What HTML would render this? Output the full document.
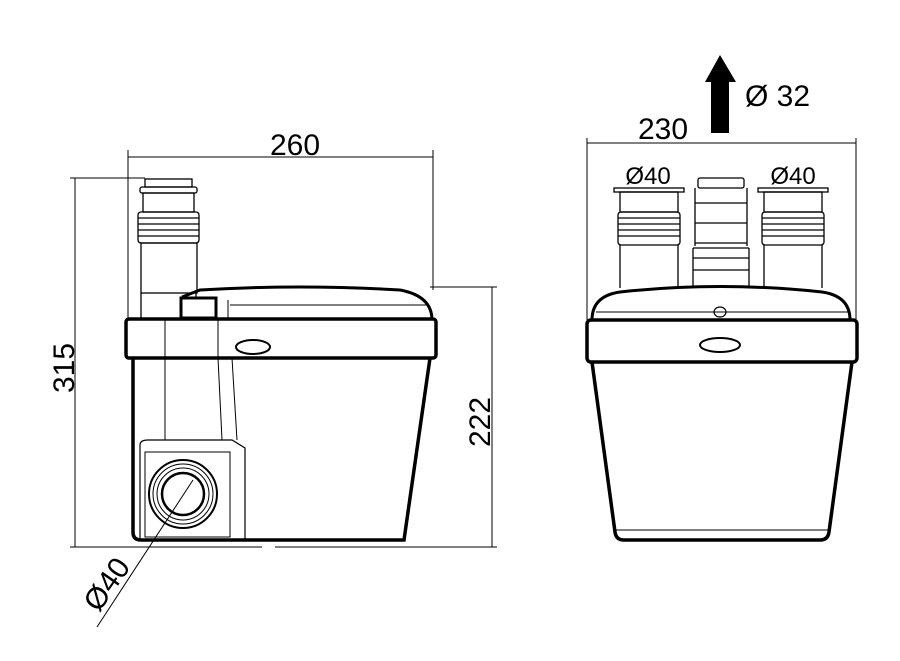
<!DOCTYPE html>
<html><head><meta charset="utf-8"><style>html,body{margin:0;padding:0;background:#fff}svg{display:block}</style></head><body>
<svg width="900" height="661" viewBox="0 0 900 661" xmlns="http://www.w3.org/2000/svg" font-family="Liberation Sans, sans-serif">
<g fill="none" stroke="#000">
<g stroke-width="1">
<line x1="128" y1="157" x2="433" y2="157"/>
<line x1="128" y1="150" x2="128" y2="318"/>
<line x1="433" y1="150" x2="433" y2="290"/>
<line x1="75" y1="178" x2="75" y2="547"/>
<line x1="70" y1="178" x2="145" y2="178"/>
<line x1="70" y1="547" x2="262" y2="547"/>
<line x1="275" y1="547" x2="497" y2="547"/>
<line x1="492" y1="287" x2="492" y2="547"/>
<line x1="430" y1="287" x2="497" y2="287"/>
<line x1="193" y1="480" x2="97" y2="627"/>
</g>
<g stroke-width="1.3">
<rect x="145" y="179" width="47" height="8"/>
<rect x="140" y="187" width="57" height="6" rx="2"/>
<rect x="143" y="193" width="51" height="19"/>
<rect x="138" y="212" width="61" height="31" rx="3"/>
<path d="M138 218H199M138 224H199M138 230H199M138 236H199"/>
<rect x="141" y="243" width="56" height="50"/>
<line x1="141" y1="293" x2="141" y2="318"/>
<line x1="196" y1="293" x2="196" y2="300"/>
</g>
<path d="M182 297 L200 290 Q300 284 400 290 Q432 296 432 320" stroke-width="3"/>
<rect x="181" y="298" width="35" height="20" fill="#fff" stroke-width="3"/>
<line x1="230" y1="305" x2="428" y2="305" stroke-width="1"/>
<line x1="228" y1="300" x2="228" y2="320" stroke-width="1"/>
<rect x="126" y="319" width="310" height="39" rx="3" stroke-width="3.5"/>
<line x1="165" y1="319" x2="165" y2="358" stroke-width="1"/>
<line x1="218" y1="319" x2="218" y2="358" stroke-width="1"/>
<ellipse cx="253" cy="347" rx="17" ry="7" stroke-width="2"/>
<path d="M133 358 L133 532 Q133 540 141 540 L404 540 L430 358" stroke-width="3.5"/>
<line x1="165" y1="358" x2="165" y2="440" stroke-width="1"/>
<line x1="218" y1="358" x2="222" y2="440" stroke-width="1"/>
<line x1="232" y1="358" x2="237" y2="440" stroke-width="1"/>
<path d="M140 540 L140 445 Q140 440 148 440 L232 440 L245 448 L245 540" stroke-width="1.2"/>
<rect x="145" y="452" width="85" height="85" stroke-width="1"/>
<circle cx="183" cy="494" r="34" stroke-width="2"/>
<circle cx="183" cy="494" r="30" stroke-width="1"/>
<circle cx="183" cy="494" r="26" stroke-width="1"/>
<circle cx="183" cy="494" r="21" stroke-width="2.5"/>
<line x1="587" y1="143" x2="856" y2="143" stroke-width="1"/>
<line x1="587" y1="138" x2="587" y2="320" stroke-width="1"/>
<line x1="856" y1="138" x2="856" y2="320" stroke-width="1"/>
<g stroke-width="1.3">
<rect x="614" y="188" width="70" height="4"/>
<rect x="620" y="192" width="58" height="20"/>
<rect x="618" y="212" width="62" height="33" rx="3"/>
<path d="M618 218H680M618 224H680M618 230H680M618 236H680"/>
<line x1="620" y1="245" x2="620" y2="288"/><line x1="678" y1="245" x2="678" y2="288"/>
<rect x="758" y="188" width="70" height="4"/>
<rect x="764" y="192" width="58" height="20"/>
<rect x="762" y="212" width="62" height="33" rx="3"/>
<path d="M762 218H824M762 224H824M762 230H824M762 236H824"/>
<line x1="764" y1="245" x2="764" y2="288"/><line x1="822" y1="245" x2="822" y2="288"/>
<rect x="698" y="178" width="46" height="10" rx="2"/>
<line x1="695" y1="188" x2="695" y2="246"/><line x1="747" y1="188" x2="747" y2="246"/>
<line x1="695" y1="203" x2="747" y2="203"/>
<line x1="695" y1="223" x2="747" y2="223"/>
<line x1="695" y1="243" x2="747" y2="243"/>
<line x1="693" y1="248" x2="749" y2="248"/>
<line x1="693" y1="248" x2="693" y2="286"/><line x1="749" y1="248" x2="749" y2="286"/>
<line x1="693" y1="258" x2="749" y2="258"/>
<line x1="693" y1="270" x2="749" y2="270"/>
</g>
<path d="M592 320 Q592 296 620 292 Q720 281 822 292 Q850 296 850 320" stroke-width="3"/>
<line x1="596" y1="312" x2="848" y2="312" stroke-width="1"/>
<ellipse cx="720" cy="312" rx="6" ry="5" stroke-width="1.2"/>
<rect x="587" y="320" width="270" height="42" rx="4" stroke-width="3.5"/>
<ellipse cx="720" cy="345" rx="20" ry="7" stroke-width="2"/>
<path d="M592 362 L615 532 Q616 540 624 540 L820 540 Q828 540 829 532 L852 362" stroke-width="3.5"/>
<line x1="616" y1="530" x2="828" y2="530" stroke-width="1"/>
</g>
<polygon points="705,82 720,55 736,82 729,82 729,133 711,133 711,82" fill="#000"/>
<g fill="#000" font-size="30">
<text x="295" y="155" text-anchor="middle">260</text>
<text x="663" y="139" text-anchor="middle">230</text>
<text x="745" y="106">Ø 32</text>
<text x="648" y="184" text-anchor="middle" font-size="24">Ø40</text>
<text x="793" y="184" text-anchor="middle" font-size="24">Ø40</text>
<text transform="translate(74 368) rotate(-90)" text-anchor="middle">315</text>
<text transform="translate(490 422) rotate(-90)" text-anchor="middle">222</text>
<text transform="translate(115 590) rotate(-55)" text-anchor="middle">Ø40</text>
</g>
</svg>
</body></html>
